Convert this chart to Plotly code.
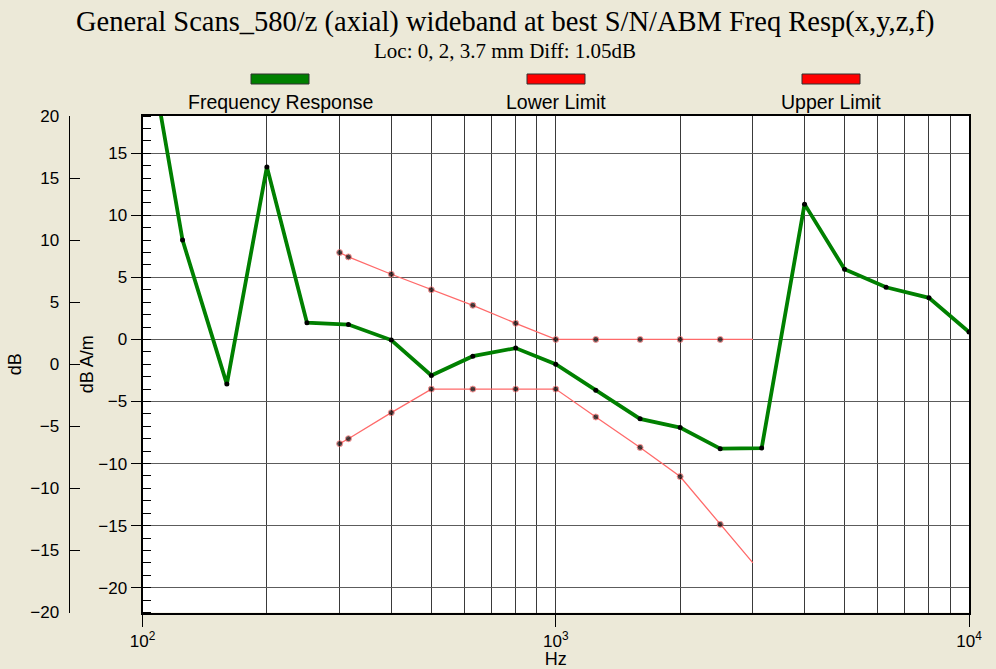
import plotly.graph_objects as go

# ---------------- data ----------------
freq_resp_hz = [100, 125, 160, 200, 250, 315, 400, 500, 630, 800, 1000,
                1250, 1600, 2000, 2500, 3150, 4000, 5000, 6300, 8000, 10000]
freq_resp_db = [26.6, 8.0, -3.6, 13.9, 1.35, 1.2, -0.05, -2.9, -1.35, -0.7, -2.0,
                -4.1, -6.4, -7.1, -8.8, -8.75, 10.9, 5.65, 4.2, 3.35, 0.6]

limit_hz = [300, 315, 400, 500, 630, 800, 1000, 1250, 1600, 2000, 2500, 3000]
lower_limit_db = [-8.4, -8.0, -5.9, -4.0, -4.0, -4.0, -4.0, -6.25, -8.7, -11.05, -14.9, -18.0]
upper_limit_db = [7.0, 6.65, 5.25, 4.0, 2.75, 1.3, 0.0, 0.0, 0.0, 0.0, 0.0, 0.0]

decade_ticks = [100, 1000, 10000]
decade_labels = ["10<sup>2</sup>", "10<sup>3</sup>", "10<sup>4</sup>"]
grid_hz = [m * d for d in (100, 1000) for m in range(2, 10)]

inner_range = [-22, 18]
outer_range = [-20, 20]

title_text = "General Scans_580/z (axial) wideband at best S/N/ABM Freq Resp(x,y,z,f)"
subtitle_text = "Loc: 0, 2, 3.7 mm Diff: 1.05dB"
legend_names = ["Frequency Response", "Lower Limit", "Upper Limit"]

# ---------------- styling / layout ----------------
W, H = 996, 669
BG = "#ECE9D8"
GREEN = "#008000"
RED = "#FF6A6A"
SANS = "Liberation Sans, Arial, sans-serif"
SERIF = "Liberation Serif, Times New Roman, serif"

def px(x):
    return x / W

def py(y):
    return 1 - y / H

plot_l, plot_r, plot_t, plot_b = 142.5, 969, 116, 612.5

fig = go.Figure()

fig.add_trace(go.Scatter(
    x=freq_resp_hz, y=freq_resp_db, mode="lines+markers",
    name=legend_names[0],
    line=dict(color=GREEN, width=3.8),
    marker=dict(color="black", size=5),
    showlegend=False, cliponaxis=True,
))

n_lim = len(limit_hz)
lim_sizes = [6] * (n_lim - 1) + [0]
fig.add_trace(go.Scatter(
    x=limit_hz, y=lower_limit_db, mode="lines+markers",
    name=legend_names[1],
    line=dict(color=RED, width=1.3),
    marker=dict(color="black", size=lim_sizes, line=dict(color=RED, width=1)),
    showlegend=False,
))
fig.add_trace(go.Scatter(
    x=limit_hz, y=upper_limit_db, mode="lines+markers",
    name=legend_names[2],
    line=dict(color=RED, width=1.3),
    marker=dict(color="black", size=lim_sizes, line=dict(color=RED, width=1)),
    showlegend=False,
))
# empty trace to activate the outer dB axis
fig.add_trace(go.Scatter(x=[None], y=[None], yaxis="y2", showlegend=False, hoverinfo="skip"))

fig.update_layout(
    width=W, height=H,
    paper_bgcolor=BG, plot_bgcolor="white",
    margin=dict(l=0, r=0, t=0, b=0, pad=0),
    font=dict(family=SANS, size=17, color="black"),
    xaxis=dict(
        type="log", range=[2, 4],
        domain=[px(plot_l), px(plot_r)],
        tickvals=decade_ticks, ticktext=decade_labels,
        ticks="outside", ticklen=12, tickcolor="black", tickwidth=1,
        showgrid=True, gridcolor="#3a3a3a", gridwidth=1,
        minor=dict(tickvals=grid_hz, showgrid=True, gridcolor="#3a3a3a",
                   gridwidth=1, ticks=""),
        showline=True, linecolor="black", linewidth=2, mirror=True,
        zeroline=False, automargin=False,
        tickfont=dict(family=SANS, size=17),
        title=dict(text="Hz", font=dict(family=SANS, size=18), standoff=2),
    ),
    yaxis=dict(
        range=inner_range,
        domain=[py(plot_b), py(plot_t)],
        tickmode="linear", tick0=0, dtick=5,
        ticks="outside", ticklen=10, tickcolor="black",
        minor=dict(dtick=1, tick0=0, ticks="inside", ticklen=8,
                   tickcolor="black", showgrid=False),
        showgrid=True, gridcolor="#5c5c5c", gridwidth=1,
        showline=True, linecolor="black", linewidth=2, mirror=True,
        zeroline=False, automargin=False,
        tickfont=dict(family=SANS, size=17),
        title=dict(text="dB A/m", font=dict(family=SANS, size=18), standoff=0),
    ),
    yaxis2=dict(
        range=outer_range, overlaying="y", anchor="free",
        position=px(68.5), side="left",
        tickmode="linear", tick0=0, dtick=5,
        ticks="inside", ticklen=10, tickcolor="black",
        ticklabelstandoff=6,
        showgrid=False, zeroline=False,
        showline=True, linecolor="black", linewidth=1,
        automargin=False,
        tickfont=dict(family=SANS, size=17),
        title=dict(text="dB", font=dict(family=SANS, size=18), standoff=2),
    ),
)

annotations = [
    dict(text=title_text, x=px(505), y=py(22), xref="paper", yref="paper",
         showarrow=False, xanchor="center", yanchor="middle",
         font=dict(family=SERIF, size=28.5, color="black")),
    dict(text=subtitle_text, x=px(505), y=py(51), xref="paper", yref="paper",
         showarrow=False, xanchor="center", yanchor="middle",
         font=dict(family=SERIF, size=21, color="black")),
]
legend_centers = [280, 556, 831]
legend_colors = [GREEN, "#FF0000", "#FF0000"]
shapes = []
for name, cx, col in zip(legend_names, legend_centers, legend_colors):
    shapes.append(dict(type="rect", xref="paper", yref="paper",
                       x0=px(cx - 29), x1=px(cx + 29), y0=py(84), y1=py(74),
                       fillcolor=col, line=dict(color="#303030", width=1)))
    annotations.append(dict(text=name, x=px(cx), y=py(102), xref="paper", yref="paper",
                            showarrow=False, xanchor="center", yanchor="middle",
                            font=dict(family=SANS, size=19.5, color="black")))

fig.update_layout(annotations=annotations, shapes=shapes)

fig.write_html("out.html", config={"displayModeBar": False},
               post_script="document.body.style.margin='0';")
